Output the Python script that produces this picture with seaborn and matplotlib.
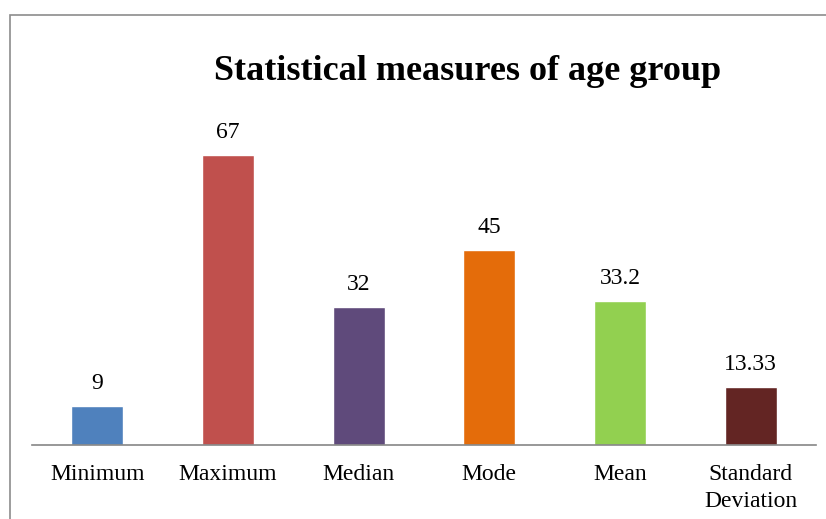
import matplotlib
matplotlib.use("Agg")
import matplotlib.pyplot as plt
import pandas as pd
import seaborn as sns
from matplotlib.patches import Rectangle

measures = ["Minimum", "Maximum", "Median", "Mode", "Mean", "Standard\nDeviation"]
values = [9, 67, 32, 45, 33.2, 13.33]
value_labels = ["9", "67", "32", "45", "33.2", "13.33"]
colors = ["#4F81BD", "#C0504D", "#5F4A7B", "#E46C0A", "#92D050", "#632523"]

sns.set_style("white")
plt.rcParams["font.family"] = ["Liberation Serif", "DejaVu Serif"]

df = pd.DataFrame({"measure": measures, "value": values})

fig = plt.figure(figsize=(8.26, 5.19), dpi=100)
ax = fig.add_axes([32 / 826, (519 - 445) / 519, (816 - 32) / 826, 346 / 519])

sns.barplot(data=df, x="measure", y="value", hue="measure", palette=colors,
            width=0.4, legend=False, ax=ax, saturation=1)

for i, (v, lab) in enumerate(zip(values, value_labels)):
    ax.text(i, v + 5.2, lab, ha="center", va="center", fontsize=17, color="black")

ax.set_xlim(-0.5, 5.5)
ax.set_ylim(0, 80)
ax.set_xlabel("")
ax.set_ylabel("")
ax.set_yticks([])
ax.tick_params(axis="x", length=0, labelsize=17, pad=14, labelcolor="black")
for t in ax.get_xticklabels():
    t.set_linespacing(1.35)
for s in ["top", "right", "left"]:
    ax.spines[s].set_visible(False)
ax.spines["bottom"].set_color("#868686")
ax.spines["bottom"].set_linewidth(1.2)

fig.text(468 / 826, 1 - 71 / 519, "Statistical measures of age group",
         ha="center", va="center", fontsize=26, fontweight="bold", color="black")

fig.patches.append(Rectangle((10 / 826, -0.1), 1.2, 1 - 15 / 519 + 0.1,
                             transform=fig.transFigure, fill=False,
                             edgecolor="#8C8C8C", linewidth=1.2))

fig.savefig("out.png", dpi=100)
